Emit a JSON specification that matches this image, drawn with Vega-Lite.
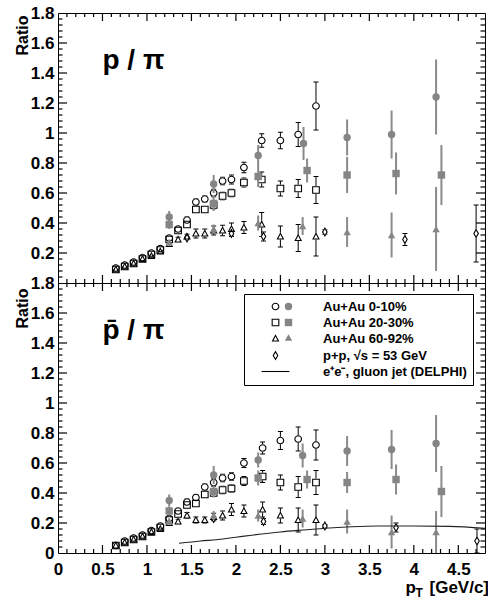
{
  "$schema": "https://vega.github.io/schema/vega-lite/v6.json",
  "background": "white",
  "padding": {"left": 13, "top": 3, "right": 0, "bottom": 0},
  "bounds": "flush",
  "spacing": 0,
  "config": {
    "view": {"stroke": "black", "strokeWidth": 1},
    "axis": {"domain": false, "grid": false, "ticks": false, "labelFont": "Liberation Sans", "labelFontWeight": "bold", "labelFontSize": 17, "labelColor": "black", "labelFlush": false, "labelOverlap": false, "titleFont": "Liberation Sans", "titleFontWeight": "bold", "titleColor": "black"}
  },
  "datasets": {
    "xmaj": [{"v":0.5},{"v":1},{"v":1.5},{"v":2},{"v":2.5},{"v":3},{"v":3.5},{"v":4},{"v":4.5}],
    "xmin": [{"v":0.1},{"v":0.2},{"v":0.3},{"v":0.4},{"v":0.6},{"v":0.7},{"v":0.8},{"v":0.9},{"v":1.1},{"v":1.2},{"v":1.3},{"v":1.4},{"v":1.6},{"v":1.7},{"v":1.8},{"v":1.9},{"v":2.1},{"v":2.2},{"v":2.3},{"v":2.4},{"v":2.6},{"v":2.7},{"v":2.8},{"v":2.9},{"v":3.1},{"v":3.2},{"v":3.3},{"v":3.4},{"v":3.6},{"v":3.7},{"v":3.8},{"v":3.9},{"v":4.1},{"v":4.2},{"v":4.3},{"v":4.4},{"v":4.6},{"v":4.7}],
    "ymaj": [{"v":0.2},{"v":0.4},{"v":0.6},{"v":0.8},{"v":1},{"v":1.2},{"v":1.4},{"v":1.6}],
    "ymin": [{"v":0.04},{"v":0.08},{"v":0.12},{"v":0.16},{"v":0.24},{"v":0.28},{"v":0.32},{"v":0.36},{"v":0.44},{"v":0.48},{"v":0.52},{"v":0.56},{"v":0.64},{"v":0.68},{"v":0.72},{"v":0.76},{"v":0.84},{"v":0.88},{"v":0.92},{"v":0.96},{"v":1.04},{"v":1.08},{"v":1.12},{"v":1.16},{"v":1.24},{"v":1.28},{"v":1.32},{"v":1.36},{"v":1.44},{"v":1.48},{"v":1.52},{"v":1.56},{"v":1.64},{"v":1.68},{"v":1.72},{"v":1.76}],
    "top": [
      {"cent":"Au+Au 0-10%","kind":"open","pt":0.65,"r":0.10,"lo":0.09,"hi":0.11},
      {"cent":"Au+Au 0-10%","kind":"open","pt":0.75,"r":0.12,"lo":0.11,"hi":0.13},
      {"cent":"Au+Au 0-10%","kind":"open","pt":0.85,"r":0.14,"lo":0.13,"hi":0.15},
      {"cent":"Au+Au 0-10%","kind":"open","pt":0.95,"r":0.17,"lo":0.16,"hi":0.18},
      {"cent":"Au+Au 0-10%","kind":"open","pt":1.05,"r":0.20,"lo":0.19,"hi":0.21},
      {"cent":"Au+Au 0-10%","kind":"open","pt":1.15,"r":0.23,"lo":0.22,"hi":0.24},
      {"cent":"Au+Au 0-10%","kind":"open","pt":1.25,"r":0.30,"lo":0.285,"hi":0.315},
      {"cent":"Au+Au 0-10%","kind":"open","pt":1.35,"r":0.36,"lo":0.345,"hi":0.375},
      {"cent":"Au+Au 0-10%","kind":"open","pt":1.45,"r":0.42,"lo":0.40,"hi":0.44},
      {"cent":"Au+Au 0-10%","kind":"open","pt":1.55,"r":0.54,"lo":0.52,"hi":0.56},
      {"cent":"Au+Au 0-10%","kind":"open","pt":1.65,"r":0.56,"lo":0.54,"hi":0.58},
      {"cent":"Au+Au 0-10%","kind":"open","pt":1.75,"r":0.60,"lo":0.575,"hi":0.625},
      {"cent":"Au+Au 0-10%","kind":"open","pt":1.85,"r":0.68,"lo":0.655,"hi":0.705},
      {"cent":"Au+Au 0-10%","kind":"open","pt":1.95,"r":0.69,"lo":0.66,"hi":0.72},
      {"cent":"Au+Au 0-10%","kind":"open","pt":2.09,"r":0.77,"lo":0.735,"hi":0.805},
      {"cent":"Au+Au 0-10%","kind":"open","pt":2.29,"r":0.95,"lo":0.905,"hi":0.995},
      {"cent":"Au+Au 0-10%","kind":"open","pt":2.5,"r":0.95,"lo":0.895,"hi":1.005},
      {"cent":"Au+Au 0-10%","kind":"open","pt":2.7,"r":0.99,"lo":0.91,"hi":1.07},
      {"cent":"Au+Au 0-10%","kind":"open","pt":2.9,"r":1.18,"lo":1.02,"hi":1.34},
      {"cent":"Au+Au 20-30%","kind":"open","pt":0.65,"r":0.09,"lo":0.08,"hi":0.10},
      {"cent":"Au+Au 20-30%","kind":"open","pt":0.75,"r":0.11,"lo":0.10,"hi":0.12},
      {"cent":"Au+Au 20-30%","kind":"open","pt":0.85,"r":0.13,"lo":0.12,"hi":0.14},
      {"cent":"Au+Au 20-30%","kind":"open","pt":0.95,"r":0.16,"lo":0.15,"hi":0.17},
      {"cent":"Au+Au 20-30%","kind":"open","pt":1.05,"r":0.19,"lo":0.18,"hi":0.20},
      {"cent":"Au+Au 20-30%","kind":"open","pt":1.15,"r":0.22,"lo":0.21,"hi":0.23},
      {"cent":"Au+Au 20-30%","kind":"open","pt":1.25,"r":0.29,"lo":0.275,"hi":0.305},
      {"cent":"Au+Au 20-30%","kind":"open","pt":1.35,"r":0.35,"lo":0.335,"hi":0.365},
      {"cent":"Au+Au 20-30%","kind":"open","pt":1.45,"r":0.39,"lo":0.37,"hi":0.41},
      {"cent":"Au+Au 20-30%","kind":"open","pt":1.55,"r":0.49,"lo":0.47,"hi":0.51},
      {"cent":"Au+Au 20-30%","kind":"open","pt":1.65,"r":0.49,"lo":0.47,"hi":0.51},
      {"cent":"Au+Au 20-30%","kind":"open","pt":1.75,"r":0.52,"lo":0.495,"hi":0.545},
      {"cent":"Au+Au 20-30%","kind":"open","pt":1.85,"r":0.58,"lo":0.555,"hi":0.605},
      {"cent":"Au+Au 20-30%","kind":"open","pt":1.95,"r":0.60,"lo":0.575,"hi":0.625},
      {"cent":"Au+Au 20-30%","kind":"open","pt":2.09,"r":0.67,"lo":0.64,"hi":0.70},
      {"cent":"Au+Au 20-30%","kind":"open","pt":2.29,"r":0.69,"lo":0.64,"hi":0.74},
      {"cent":"Au+Au 20-30%","kind":"open","pt":2.5,"r":0.63,"lo":0.58,"hi":0.68},
      {"cent":"Au+Au 20-30%","kind":"open","pt":2.7,"r":0.63,"lo":0.57,"hi":0.69},
      {"cent":"Au+Au 20-30%","kind":"open","pt":2.9,"r":0.62,"lo":0.53,"hi":0.71},
      {"cent":"Au+Au 60-92%","kind":"open","pt":0.65,"r":0.09,"lo":0.08,"hi":0.10},
      {"cent":"Au+Au 60-92%","kind":"open","pt":0.75,"r":0.11,"lo":0.10,"hi":0.12},
      {"cent":"Au+Au 60-92%","kind":"open","pt":0.85,"r":0.13,"lo":0.12,"hi":0.14},
      {"cent":"Au+Au 60-92%","kind":"open","pt":0.95,"r":0.16,"lo":0.15,"hi":0.17},
      {"cent":"Au+Au 60-92%","kind":"open","pt":1.05,"r":0.18,"lo":0.17,"hi":0.19},
      {"cent":"Au+Au 60-92%","kind":"open","pt":1.15,"r":0.21,"lo":0.20,"hi":0.22},
      {"cent":"Au+Au 60-92%","kind":"open","pt":1.25,"r":0.26,"lo":0.245,"hi":0.275},
      {"cent":"Au+Au 60-92%","kind":"open","pt":1.35,"r":0.29,"lo":0.275,"hi":0.305},
      {"cent":"Au+Au 60-92%","kind":"open","pt":1.45,"r":0.31,"lo":0.295,"hi":0.325},
      {"cent":"Au+Au 60-92%","kind":"open","pt":1.55,"r":0.33,"lo":0.30,"hi":0.36},
      {"cent":"Au+Au 60-92%","kind":"open","pt":1.65,"r":0.33,"lo":0.30,"hi":0.36},
      {"cent":"Au+Au 60-92%","kind":"open","pt":1.75,"r":0.35,"lo":0.32,"hi":0.38},
      {"cent":"Au+Au 60-92%","kind":"open","pt":1.85,"r":0.35,"lo":0.315,"hi":0.385},
      {"cent":"Au+Au 60-92%","kind":"open","pt":1.95,"r":0.36,"lo":0.32,"hi":0.40},
      {"cent":"Au+Au 60-92%","kind":"open","pt":2.09,"r":0.37,"lo":0.33,"hi":0.41},
      {"cent":"Au+Au 60-92%","kind":"open","pt":2.29,"r":0.39,"lo":0.31,"hi":0.47},
      {"cent":"Au+Au 60-92%","kind":"open","pt":2.5,"r":0.31,"lo":0.24,"hi":0.38},
      {"cent":"Au+Au 60-92%","kind":"open","pt":2.7,"r":0.30,"lo":0.21,"hi":0.39},
      {"cent":"Au+Au 60-92%","kind":"open","pt":2.9,"r":0.31,"lo":0.18,"hi":0.44},
      {"cent":"p+p, √s = 53 GeV","kind":"open","pt":1.45,"r":0.30,"lo":0.29,"hi":0.31},
      {"cent":"p+p, √s = 53 GeV","kind":"open","pt":1.95,"r":0.33,"lo":0.31,"hi":0.35},
      {"cent":"p+p, √s = 53 GeV","kind":"open","pt":2.31,"r":0.31,"lo":0.28,"hi":0.34},
      {"cent":"p+p, √s = 53 GeV","kind":"open","pt":3.0,"r":0.34,"lo":0.325,"hi":0.355},
      {"cent":"p+p, √s = 53 GeV","kind":"open","pt":3.9,"r":0.29,"lo":0.25,"hi":0.33},
      {"cent":"p+p, √s = 53 GeV","kind":"open","pt":4.7,"r":0.33,"lo":0.14,"hi":0.52},
      {"cent":"Au+Au 0-10%","kind":"filled","pt":1.25,"r":0.44,"lo":0.40,"hi":0.48},
      {"cent":"Au+Au 0-10%","kind":"filled","pt":1.75,"r":0.66,"lo":0.60,"hi":0.72},
      {"cent":"Au+Au 0-10%","kind":"filled","pt":2.25,"r":0.85,"lo":0.78,"hi":0.92},
      {"cent":"Au+Au 0-10%","kind":"filled","pt":2.76,"r":0.93,"lo":0.82,"hi":1.04},
      {"cent":"Au+Au 0-10%","kind":"filled","pt":3.25,"r":0.97,"lo":0.85,"hi":1.09},
      {"cent":"Au+Au 0-10%","kind":"filled","pt":3.75,"r":0.99,"lo":0.83,"hi":1.15},
      {"cent":"Au+Au 0-10%","kind":"filled","pt":4.25,"r":1.24,"lo":0.99,"hi":1.49},
      {"cent":"Au+Au 20-30%","kind":"filled","pt":1.25,"r":0.39,"lo":0.36,"hi":0.42},
      {"cent":"Au+Au 20-30%","kind":"filled","pt":1.75,"r":0.53,"lo":0.48,"hi":0.58},
      {"cent":"Au+Au 20-30%","kind":"filled","pt":2.25,"r":0.71,"lo":0.64,"hi":0.78},
      {"cent":"Au+Au 20-30%","kind":"filled","pt":2.8,"r":0.75,"lo":0.67,"hi":0.83},
      {"cent":"Au+Au 20-30%","kind":"filled","pt":3.25,"r":0.72,"lo":0.60,"hi":0.84},
      {"cent":"Au+Au 20-30%","kind":"filled","pt":3.8,"r":0.73,"lo":0.59,"hi":0.87},
      {"cent":"Au+Au 20-30%","kind":"filled","pt":4.31,"r":0.72,"lo":0.52,"hi":0.92},
      {"cent":"Au+Au 60-92%","kind":"filled","pt":1.25,"r":0.27,"lo":0.25,"hi":0.29},
      {"cent":"Au+Au 60-92%","kind":"filled","pt":1.75,"r":0.36,"lo":0.33,"hi":0.39},
      {"cent":"Au+Au 60-92%","kind":"filled","pt":2.25,"r":0.40,"lo":0.35,"hi":0.45},
      {"cent":"Au+Au 60-92%","kind":"filled","pt":2.75,"r":0.38,"lo":0.32,"hi":0.44},
      {"cent":"Au+Au 60-92%","kind":"filled","pt":3.25,"r":0.34,"lo":0.24,"hi":0.44},
      {"cent":"Au+Au 60-92%","kind":"filled","pt":3.75,"r":0.32,"lo":0.17,"hi":0.47},
      {"cent":"Au+Au 60-92%","kind":"filled","pt":4.25,"r":0.36,"lo":0.08,"hi":0.64}
    ],
    "bot": [
      {"cent":"Au+Au 0-10%","kind":"open","pt":0.65,"r":0.05,"lo":0.04,"hi":0.06},
      {"cent":"Au+Au 0-10%","kind":"open","pt":0.75,"r":0.08,"lo":0.07,"hi":0.09},
      {"cent":"Au+Au 0-10%","kind":"open","pt":0.85,"r":0.10,"lo":0.09,"hi":0.11},
      {"cent":"Au+Au 0-10%","kind":"open","pt":0.95,"r":0.12,"lo":0.11,"hi":0.13},
      {"cent":"Au+Au 0-10%","kind":"open","pt":1.05,"r":0.15,"lo":0.14,"hi":0.16},
      {"cent":"Au+Au 0-10%","kind":"open","pt":1.15,"r":0.18,"lo":0.17,"hi":0.19},
      {"cent":"Au+Au 0-10%","kind":"open","pt":1.25,"r":0.23,"lo":0.215,"hi":0.245},
      {"cent":"Au+Au 0-10%","kind":"open","pt":1.35,"r":0.28,"lo":0.265,"hi":0.295},
      {"cent":"Au+Au 0-10%","kind":"open","pt":1.45,"r":0.34,"lo":0.32,"hi":0.36},
      {"cent":"Au+Au 0-10%","kind":"open","pt":1.55,"r":0.37,"lo":0.35,"hi":0.39},
      {"cent":"Au+Au 0-10%","kind":"open","pt":1.65,"r":0.44,"lo":0.42,"hi":0.46},
      {"cent":"Au+Au 0-10%","kind":"open","pt":1.75,"r":0.47,"lo":0.445,"hi":0.495},
      {"cent":"Au+Au 0-10%","kind":"open","pt":1.85,"r":0.50,"lo":0.475,"hi":0.525},
      {"cent":"Au+Au 0-10%","kind":"open","pt":1.95,"r":0.51,"lo":0.485,"hi":0.535},
      {"cent":"Au+Au 0-10%","kind":"open","pt":2.09,"r":0.60,"lo":0.57,"hi":0.63},
      {"cent":"Au+Au 0-10%","kind":"open","pt":2.3,"r":0.70,"lo":0.66,"hi":0.74},
      {"cent":"Au+Au 0-10%","kind":"open","pt":2.5,"r":0.75,"lo":0.69,"hi":0.81},
      {"cent":"Au+Au 0-10%","kind":"open","pt":2.7,"r":0.76,"lo":0.68,"hi":0.84},
      {"cent":"Au+Au 0-10%","kind":"open","pt":2.9,"r":0.72,"lo":0.62,"hi":0.82},
      {"cent":"Au+Au 20-30%","kind":"open","pt":0.65,"r":0.05,"lo":0.04,"hi":0.06},
      {"cent":"Au+Au 20-30%","kind":"open","pt":0.75,"r":0.07,"lo":0.06,"hi":0.08},
      {"cent":"Au+Au 20-30%","kind":"open","pt":0.85,"r":0.09,"lo":0.08,"hi":0.10},
      {"cent":"Au+Au 20-30%","kind":"open","pt":0.95,"r":0.11,"lo":0.10,"hi":0.12},
      {"cent":"Au+Au 20-30%","kind":"open","pt":1.05,"r":0.14,"lo":0.13,"hi":0.15},
      {"cent":"Au+Au 20-30%","kind":"open","pt":1.15,"r":0.17,"lo":0.16,"hi":0.18},
      {"cent":"Au+Au 20-30%","kind":"open","pt":1.25,"r":0.22,"lo":0.205,"hi":0.235},
      {"cent":"Au+Au 20-30%","kind":"open","pt":1.35,"r":0.26,"lo":0.245,"hi":0.275},
      {"cent":"Au+Au 20-30%","kind":"open","pt":1.45,"r":0.32,"lo":0.30,"hi":0.34},
      {"cent":"Au+Au 20-30%","kind":"open","pt":1.55,"r":0.33,"lo":0.31,"hi":0.35},
      {"cent":"Au+Au 20-30%","kind":"open","pt":1.65,"r":0.39,"lo":0.37,"hi":0.41},
      {"cent":"Au+Au 20-30%","kind":"open","pt":1.75,"r":0.40,"lo":0.38,"hi":0.42},
      {"cent":"Au+Au 20-30%","kind":"open","pt":1.85,"r":0.42,"lo":0.395,"hi":0.445},
      {"cent":"Au+Au 20-30%","kind":"open","pt":1.95,"r":0.43,"lo":0.405,"hi":0.455},
      {"cent":"Au+Au 20-30%","kind":"open","pt":2.09,"r":0.48,"lo":0.45,"hi":0.51},
      {"cent":"Au+Au 20-30%","kind":"open","pt":2.3,"r":0.51,"lo":0.47,"hi":0.55},
      {"cent":"Au+Au 20-30%","kind":"open","pt":2.5,"r":0.47,"lo":0.42,"hi":0.52},
      {"cent":"Au+Au 20-30%","kind":"open","pt":2.7,"r":0.44,"lo":0.37,"hi":0.51},
      {"cent":"Au+Au 20-30%","kind":"open","pt":2.9,"r":0.47,"lo":0.39,"hi":0.55},
      {"cent":"Au+Au 60-92%","kind":"open","pt":0.65,"r":0.05,"lo":0.04,"hi":0.06},
      {"cent":"Au+Au 60-92%","kind":"open","pt":0.75,"r":0.07,"lo":0.06,"hi":0.08},
      {"cent":"Au+Au 60-92%","kind":"open","pt":0.85,"r":0.09,"lo":0.08,"hi":0.10},
      {"cent":"Au+Au 60-92%","kind":"open","pt":0.95,"r":0.11,"lo":0.10,"hi":0.12},
      {"cent":"Au+Au 60-92%","kind":"open","pt":1.05,"r":0.14,"lo":0.13,"hi":0.15},
      {"cent":"Au+Au 60-92%","kind":"open","pt":1.15,"r":0.16,"lo":0.15,"hi":0.17},
      {"cent":"Au+Au 60-92%","kind":"open","pt":1.25,"r":0.20,"lo":0.185,"hi":0.215},
      {"cent":"Au+Au 60-92%","kind":"open","pt":1.35,"r":0.21,"lo":0.195,"hi":0.225},
      {"cent":"Au+Au 60-92%","kind":"open","pt":1.45,"r":0.25,"lo":0.23,"hi":0.27},
      {"cent":"Au+Au 60-92%","kind":"open","pt":1.55,"r":0.22,"lo":0.20,"hi":0.24},
      {"cent":"Au+Au 60-92%","kind":"open","pt":1.65,"r":0.22,"lo":0.20,"hi":0.24},
      {"cent":"Au+Au 60-92%","kind":"open","pt":1.75,"r":0.24,"lo":0.215,"hi":0.265},
      {"cent":"Au+Au 60-92%","kind":"open","pt":1.85,"r":0.25,"lo":0.22,"hi":0.28},
      {"cent":"Au+Au 60-92%","kind":"open","pt":1.95,"r":0.29,"lo":0.25,"hi":0.33},
      {"cent":"Au+Au 60-92%","kind":"open","pt":2.09,"r":0.28,"lo":0.24,"hi":0.32},
      {"cent":"Au+Au 60-92%","kind":"open","pt":2.3,"r":0.29,"lo":0.24,"hi":0.34},
      {"cent":"Au+Au 60-92%","kind":"open","pt":2.5,"r":0.25,"lo":0.20,"hi":0.30},
      {"cent":"Au+Au 60-92%","kind":"open","pt":2.7,"r":0.22,"lo":0.14,"hi":0.30},
      {"cent":"Au+Au 60-92%","kind":"open","pt":2.9,"r":0.22,"lo":0.12,"hi":0.32},
      {"cent":"p+p, √s = 53 GeV","kind":"open","pt":1.75,"r":0.23,"lo":0.22,"hi":0.24},
      {"cent":"p+p, √s = 53 GeV","kind":"open","pt":2.31,"r":0.21,"lo":0.19,"hi":0.23},
      {"cent":"p+p, √s = 53 GeV","kind":"open","pt":3.0,"r":0.18,"lo":0.17,"hi":0.19},
      {"cent":"p+p, √s = 53 GeV","kind":"open","pt":3.8,"r":0.17,"lo":0.14,"hi":0.20},
      {"cent":"p+p, √s = 53 GeV","kind":"open","pt":4.71,"r":0.08,"lo":0.0,"hi":0.16},
      {"cent":"Au+Au 0-10%","kind":"filled","pt":1.25,"r":0.35,"lo":0.31,"hi":0.39},
      {"cent":"Au+Au 0-10%","kind":"filled","pt":1.75,"r":0.52,"lo":0.46,"hi":0.58},
      {"cent":"Au+Au 0-10%","kind":"filled","pt":2.25,"r":0.62,"lo":0.57,"hi":0.67},
      {"cent":"Au+Au 0-10%","kind":"filled","pt":2.75,"r":0.65,"lo":0.57,"hi":0.73},
      {"cent":"Au+Au 0-10%","kind":"filled","pt":3.25,"r":0.68,"lo":0.58,"hi":0.78},
      {"cent":"Au+Au 0-10%","kind":"filled","pt":3.75,"r":0.69,"lo":0.56,"hi":0.82},
      {"cent":"Au+Au 0-10%","kind":"filled","pt":4.25,"r":0.73,"lo":0.54,"hi":0.92},
      {"cent":"Au+Au 20-30%","kind":"filled","pt":1.25,"r":0.28,"lo":0.25,"hi":0.31},
      {"cent":"Au+Au 20-30%","kind":"filled","pt":1.75,"r":0.41,"lo":0.37,"hi":0.45},
      {"cent":"Au+Au 20-30%","kind":"filled","pt":2.25,"r":0.50,"lo":0.45,"hi":0.55},
      {"cent":"Au+Au 20-30%","kind":"filled","pt":2.8,"r":0.49,"lo":0.43,"hi":0.55},
      {"cent":"Au+Au 20-30%","kind":"filled","pt":3.25,"r":0.47,"lo":0.40,"hi":0.54},
      {"cent":"Au+Au 20-30%","kind":"filled","pt":3.8,"r":0.49,"lo":0.39,"hi":0.59},
      {"cent":"Au+Au 20-30%","kind":"filled","pt":4.31,"r":0.41,"lo":0.24,"hi":0.58},
      {"cent":"Au+Au 60-92%","kind":"filled","pt":1.25,"r":0.21,"lo":0.19,"hi":0.23},
      {"cent":"Au+Au 60-92%","kind":"filled","pt":1.75,"r":0.25,"lo":0.22,"hi":0.28},
      {"cent":"Au+Au 60-92%","kind":"filled","pt":2.25,"r":0.25,"lo":0.21,"hi":0.29},
      {"cent":"Au+Au 60-92%","kind":"filled","pt":2.75,"r":0.23,"lo":0.17,"hi":0.29},
      {"cent":"Au+Au 60-92%","kind":"filled","pt":3.25,"r":0.21,"lo":0.13,"hi":0.29},
      {"cent":"Au+Au 60-92%","kind":"filled","pt":3.75,"r":0.14,"lo":0.03,"hi":0.25},
      {"cent":"Au+Au 60-92%","kind":"filled","pt":4.25,"r":0.14,"lo":0.0,"hi":0.28}
    ],
    "delphi": [
      {"pt":1.36,"r":0.065},{"pt":1.6,"r":0.08},{"pt":1.8,"r":0.09},{"pt":2.0,"r":0.105},
      {"pt":2.2,"r":0.12},{"pt":2.5,"r":0.14},{"pt":2.8,"r":0.155},{"pt":3.0,"r":0.165},
      {"pt":3.3,"r":0.175},{"pt":3.6,"r":0.18},{"pt":4.0,"r":0.18},{"pt":4.4,"r":0.177},{"pt":4.8,"r":0.165}
    ]
  },
  "vconcat": [
    {
      "width": 427, "height": 270,
      "resolve": {"scale": {"shape": "independent"}, "legend": {"shape": "independent"}, "axis": {"x": "independent", "y": "independent"}},
      "layer": [
        {
          "data": {"name": "top"},
          "transform": [{"filter": "datum.kind === 'open'"}],
          "mark": {"type": "rule", "color": "black", "strokeWidth": 1, "clip": true},
          "encoding": {
            "x": {"field": "pt", "type": "quantitative", "scale": {"domain": [0, 4.8], "nice": false, "zero": false}, "axis": null},
            "y": {"field": "lo", "type": "quantitative", "scale": {"domain": [0, 1.8], "nice": false, "zero": false},
                  "axis": {"orient": "left", "values": [0.2,0.4,0.6,0.8,1,1.2,1.4,1.6,1.8], "format": "~g", "labelPadding": 4,
                           "title": "Ratio", "titleAngle": 270, "titleX": -31, "titleY": 2, "titleAlign": "right", "titleBaseline": "alphabetic", "titleFontSize": 16}},
            "y2": {"field": "hi"}
          }
        },
        {
          "data": {"name": "top"},
          "transform": [{"filter": "datum.kind === 'open'"}],
          "mark": {"type": "tick", "orient": "horizontal", "size": 5, "thickness": 1, "color": "black", "opacity": 1, "clip": true},
          "encoding": {
            "x": {"field": "pt", "type": "quantitative", "scale": {"domain": [0, 4.8], "nice": false, "zero": false}, "axis": null},
            "y": {"field": "lo", "type": "quantitative", "scale": {"domain": [0, 1.8], "nice": false, "zero": false}, "axis": null}
          }
        },
        {
          "data": {"name": "top"},
          "transform": [{"filter": "datum.kind === 'open'"}],
          "mark": {"type": "tick", "orient": "horizontal", "size": 5, "thickness": 1, "color": "black", "opacity": 1, "clip": true},
          "encoding": {
            "x": {"field": "pt", "type": "quantitative", "scale": {"domain": [0, 4.8], "nice": false, "zero": false}, "axis": null},
            "y": {"field": "hi", "type": "quantitative", "scale": {"domain": [0, 1.8], "nice": false, "zero": false}, "axis": null}
          }
        },
        {
          "data": {"name": "top"},
          "transform": [{"filter": "datum.kind === 'open'"}],
          "mark": {"type": "point", "filled": true, "color": "white", "size": 60, "opacity": 1},
          "encoding": {
            "x": {"field": "pt", "type": "quantitative", "scale": {"domain": [0, 4.8], "nice": false, "zero": false}, "axis": null},
            "y": {"field": "r", "type": "quantitative", "scale": {"domain": [0, 1.8], "nice": false, "zero": false}, "axis": null},
            "shape": {"field": "cent", "type": "nominal",
                      "scale": {"domain": ["Au+Au 0-10%","Au+Au 20-30%","Au+Au 60-92%","p+p, √s = 53 GeV"],
                                "range": ["M-1,0A1,1,0,1,0,1,0A1,1,0,1,0,-1,0Z","M-1,-1H1V1H-1Z","M0,-1.1L1,0.8H-1Z","M0,-1.3L0.75,0L0,1.3L-0.75,0Z"]},
                      "legend": null}
          }
        },
        {
          "data": {"name": "top"},
          "transform": [{"filter": "datum.kind === 'open'"}],
          "mark": {"type": "point", "filled": true, "color": "black", "size": 60, "opacity": 1},
          "encoding": {
            "x": {"field": "pt", "type": "quantitative", "scale": {"domain": [0, 4.8], "nice": false, "zero": false}, "axis": null},
            "y": {"field": "r", "type": "quantitative", "scale": {"domain": [0, 1.8], "nice": false, "zero": false}, "axis": null},
            "shape": {"field": "cent", "type": "nominal",
                      "scale": {"domain": ["Au+Au 0-10%","Au+Au 20-30%","Au+Au 60-92%","p+p, √s = 53 GeV"],
                                "range": ["M-1,0A1,1,0,1,0,1,0A1,1,0,1,0,-1,0ZM-0.72,0A0.72,0.72,0,1,1,0.72,0A0.72,0.72,0,1,1,-0.72,0Z","M-1,-1H1V1H-1ZM-0.72,-0.72V0.72H0.72V-0.72Z","M0,-1.1L1,0.8H-1ZM0,-0.5L-0.54,0.52H0.54Z","M0,-1.3L0.75,0L0,1.3L-0.75,0ZM0,-0.74L-0.43,0L0,0.74L0.43,0Z"]},
                      "legend": null}
          }
        },
        {
          "data": {"name": "top"},
          "transform": [{"filter": "datum.kind === 'filled'"}],
          "mark": {"type": "rule", "color": "#8a8a8a", "strokeWidth": 2, "clip": true},
          "encoding": {
            "x": {"field": "pt", "type": "quantitative", "scale": {"domain": [0, 4.8], "nice": false, "zero": false}, "axis": null},
            "y": {"field": "lo", "type": "quantitative", "scale": {"domain": [0, 1.8], "nice": false, "zero": false}, "axis": null},
            "y2": {"field": "hi"}
          }
        },
        {
          "data": {"name": "top"},
          "transform": [{"filter": "datum.kind === 'filled'"}],
          "mark": {"type": "point", "filled": true, "color": "#858585", "size": 55, "opacity": 1},
          "encoding": {
            "x": {"field": "pt", "type": "quantitative", "scale": {"domain": [0, 4.8], "nice": false, "zero": false}, "axis": null},
            "y": {"field": "r", "type": "quantitative", "scale": {"domain": [0, 1.8], "nice": false, "zero": false}, "axis": null},
            "shape": {"field": "cent", "type": "nominal",
                      "scale": {"domain": ["Au+Au 0-10%","Au+Au 20-30%","Au+Au 60-92%"], "range": ["circle","square","triangle-up"]},
                      "legend": null}
          }
        },
        {
          "data": {"values": [{}]},
          "mark": {"type": "text", "text": "p / π", "font": "Liberation Sans", "fontWeight": "bold", "fontSize": 28, "align": "left", "baseline": "alphabetic", "color": "black"},
          "encoding": {
            "x": {"datum": 0.5, "type": "quantitative", "scale": {"domain": [0, 4.8], "nice": false, "zero": false}, "axis": null},
            "y": {"datum": 1.43, "type": "quantitative", "scale": {"domain": [0, 1.8], "nice": false, "zero": false}, "axis": null}
          }
        },
        {"data": {"name": "xmaj"}, "mark": {"type": "rule", "color": "black", "strokeWidth": 1.2},
         "encoding": {"x": {"field": "v", "type": "quantitative", "scale": {"domain": [0, 4.8], "nice": false, "zero": false}, "axis": null},
                      "y": {"datum": 0, "type": "quantitative", "scale": {"domain": [0, 1.8], "nice": false, "zero": false}, "axis": null}, "y2": {"datum": 0.0533}}},
        {"data": {"name": "xmaj"}, "mark": {"type": "rule", "color": "black", "strokeWidth": 1.2},
         "encoding": {"x": {"field": "v", "type": "quantitative", "scale": {"domain": [0, 4.8], "nice": false, "zero": false}, "axis": null},
                      "y": {"datum": 1.8, "type": "quantitative", "scale": {"domain": [0, 1.8], "nice": false, "zero": false}, "axis": null}, "y2": {"datum": 1.7467}}},
        {"data": {"name": "xmin"}, "mark": {"type": "rule", "color": "black", "strokeWidth": 1.2},
         "encoding": {"x": {"field": "v", "type": "quantitative", "scale": {"domain": [0, 4.8], "nice": false, "zero": false}, "axis": null},
                      "y": {"datum": 0, "type": "quantitative", "scale": {"domain": [0, 1.8], "nice": false, "zero": false}, "axis": null}, "y2": {"datum": 0.0267}}},
        {"data": {"name": "xmin"}, "mark": {"type": "rule", "color": "black", "strokeWidth": 1.2},
         "encoding": {"x": {"field": "v", "type": "quantitative", "scale": {"domain": [0, 4.8], "nice": false, "zero": false}, "axis": null},
                      "y": {"datum": 1.8, "type": "quantitative", "scale": {"domain": [0, 1.8], "nice": false, "zero": false}, "axis": null}, "y2": {"datum": 1.7733}}},
        {"data": {"name": "ymaj"}, "mark": {"type": "rule", "color": "black", "strokeWidth": 1.2},
         "encoding": {"y": {"field": "v", "type": "quantitative", "scale": {"domain": [0, 1.8], "nice": false, "zero": false}, "axis": null},
                      "x": {"datum": 0, "type": "quantitative", "scale": {"domain": [0, 4.8], "nice": false, "zero": false}, "axis": null}, "x2": {"datum": 0.101}}},
        {"data": {"name": "ymaj"}, "mark": {"type": "rule", "color": "black", "strokeWidth": 1.2},
         "encoding": {"y": {"field": "v", "type": "quantitative", "scale": {"domain": [0, 1.8], "nice": false, "zero": false}, "axis": null},
                      "x": {"datum": 4.8, "type": "quantitative", "scale": {"domain": [0, 4.8], "nice": false, "zero": false}, "axis": null}, "x2": {"datum": 4.699}}},
        {"data": {"name": "ymin"}, "mark": {"type": "rule", "color": "black", "strokeWidth": 1.2},
         "encoding": {"y": {"field": "v", "type": "quantitative", "scale": {"domain": [0, 1.8], "nice": false, "zero": false}, "axis": null},
                      "x": {"datum": 0, "type": "quantitative", "scale": {"domain": [0, 4.8], "nice": false, "zero": false}, "axis": null}, "x2": {"datum": 0.0506}}},
        {"data": {"name": "ymin"}, "mark": {"type": "rule", "color": "black", "strokeWidth": 1.2},
         "encoding": {"y": {"field": "v", "type": "quantitative", "scale": {"domain": [0, 1.8], "nice": false, "zero": false}, "axis": null},
                      "x": {"datum": 4.8, "type": "quantitative", "scale": {"domain": [0, 4.8], "nice": false, "zero": false}, "axis": null}, "x2": {"datum": 4.7494}}}
      ]
    },
    {
      "width": 427, "height": 270,
      "resolve": {"scale": {"shape": "independent"}, "legend": {"shape": "independent"}, "axis": {"x": "independent", "y": "independent"}},
      "layer": [
        {
          "data": {"name": "bot"},
          "transform": [{"filter": "datum.kind === 'open'"}],
          "mark": {"type": "rule", "color": "black", "strokeWidth": 1, "clip": true},
          "encoding": {
            "x": {"field": "pt", "type": "quantitative", "scale": {"domain": [0, 4.8], "nice": false, "zero": false},
                  "axis": {"orient": "bottom", "values": [0,0.5,1,1.5,2,2.5,3,3.5,4,4.5], "format": "~g", "labelPadding": 8,
                           "title": "p", "titleX": 347, "titleY": 39, "titleAlign": "left", "titleBaseline": "alphabetic", "titleFontSize": 17}},
            "y": {"field": "lo", "type": "quantitative", "scale": {"domain": [0, 1.8], "nice": false, "zero": false},
                  "axis": {"orient": "left", "values": [0,0.2,0.4,0.6,0.8,1,1.2,1.4,1.6,1.8], "format": "~g", "labelPadding": 4,
                           "title": "Ratio", "titleAngle": 270, "titleX": -31, "titleY": 5, "titleAlign": "right", "titleBaseline": "alphabetic", "titleFontSize": 16}},
            "y2": {"field": "hi"}
          }
        },
        {
          "data": {"name": "bot"},
          "transform": [{"filter": "datum.kind === 'open'"}],
          "mark": {"type": "tick", "orient": "horizontal", "size": 5, "thickness": 1, "color": "black", "opacity": 1, "clip": true},
          "encoding": {
            "x": {"field": "pt", "type": "quantitative", "scale": {"domain": [0, 4.8], "nice": false, "zero": false},
                  "axis": {"orient": "bottom", "values": [], "labels": false,
                           "title": "T", "titleX": 357, "titleY": 43, "titleAlign": "left", "titleBaseline": "alphabetic", "titleFontSize": 12}},
            "y": {"field": "lo", "type": "quantitative", "scale": {"domain": [0, 1.8], "nice": false, "zero": false}, "axis": null}
          }
        },
        {
          "data": {"name": "bot"},
          "transform": [{"filter": "datum.kind === 'open'"}],
          "mark": {"type": "tick", "orient": "horizontal", "size": 5, "thickness": 1, "color": "black", "opacity": 1, "clip": true},
          "encoding": {
            "x": {"field": "pt", "type": "quantitative", "scale": {"domain": [0, 4.8], "nice": false, "zero": false},
                  "axis": {"orient": "bottom", "values": [], "labels": false,
                           "title": "[GeV/c]", "titleX": 371, "titleY": 39, "titleAlign": "left", "titleBaseline": "alphabetic", "titleFontSize": 17}},
            "y": {"field": "hi", "type": "quantitative", "scale": {"domain": [0, 1.8], "nice": false, "zero": false}, "axis": null}
          }
        },
        {
          "data": {"name": "bot"},
          "transform": [{"filter": "datum.kind === 'open'"}],
          "mark": {"type": "point", "filled": true, "color": "white", "size": 60, "opacity": 1},
          "encoding": {
            "x": {"field": "pt", "type": "quantitative", "scale": {"domain": [0, 4.8], "nice": false, "zero": false}, "axis": null},
            "y": {"field": "r", "type": "quantitative", "scale": {"domain": [0, 1.8], "nice": false, "zero": false}, "axis": null},
            "shape": {"field": "cent", "type": "nominal",
                      "scale": {"domain": ["Au+Au 0-10%","Au+Au 20-30%","Au+Au 60-92%","p+p, √s = 53 GeV"],
                                "range": ["M-1,0A1,1,0,1,0,1,0A1,1,0,1,0,-1,0Z","M-1,-1H1V1H-1Z","M0,-1.1L1,0.8H-1Z","M0,-1.3L0.75,0L0,1.3L-0.75,0Z"]},
                      "legend": null}
          }
        },
        {
          "data": {"name": "bot"},
          "transform": [{"filter": "datum.kind === 'open'"}],
          "mark": {"type": "point", "filled": true, "color": "black", "size": 60, "opacity": 1},
          "encoding": {
            "x": {"field": "pt", "type": "quantitative", "scale": {"domain": [0, 4.8], "nice": false, "zero": false}, "axis": null},
            "y": {"field": "r", "type": "quantitative", "scale": {"domain": [0, 1.8], "nice": false, "zero": false}, "axis": null},
            "shape": {"field": "cent", "type": "nominal",
                      "scale": {"domain": ["Au+Au 0-10%","Au+Au 20-30%","Au+Au 60-92%","p+p, √s = 53 GeV","e⁺e⁻, gluon jet (DELPHI)"],
                                "range": ["M-1,0A1,1,0,1,0,1,0A1,1,0,1,0,-1,0ZM-0.72,0A0.72,0.72,0,1,1,0.72,0A0.72,0.72,0,1,1,-0.72,0Z","M-1,-1H1V1H-1ZM-0.72,-0.72V0.72H0.72V-0.72Z","M0,-1.1L1,0.8H-1ZM0,-0.5L-0.54,0.52H0.54Z","M0,-1.3L0.75,0L0,1.3L-0.75,0ZM0,-0.74L-0.43,0L0,0.74L0.43,0Z","M-3.6,-0.14H3.6V0.14H-3.6Z"]},
                      "legend": {"title": null, "orient": "none", "legendX": 186, "legendY": 11, "padding": 6, "symbolOffset": 19, "labelOffset": 41, "rowPadding": 1,
                                 "labelFont": "Liberation Sans", "labelFontWeight": "bold", "labelFontSize": 13, "labelColor": "black", "labelLimit": 400,
                                 "strokeColor": "black", "fillColor": "white", "symbolSize": 60, "symbolFillColor": "black"}}
          }
        },
        {
          "data": {"name": "bot"},
          "transform": [{"filter": "datum.kind === 'filled'"}],
          "mark": {"type": "rule", "color": "#8a8a8a", "strokeWidth": 2, "clip": true},
          "encoding": {
            "x": {"field": "pt", "type": "quantitative", "scale": {"domain": [0, 4.8], "nice": false, "zero": false}, "axis": null},
            "y": {"field": "lo", "type": "quantitative", "scale": {"domain": [0, 1.8], "nice": false, "zero": false}, "axis": null},
            "y2": {"field": "hi"}
          }
        },
        {
          "data": {"name": "bot"},
          "transform": [{"filter": "datum.kind === 'filled'"}],
          "mark": {"type": "point", "filled": true, "color": "#858585", "size": 55, "opacity": 1},
          "encoding": {
            "x": {"field": "pt", "type": "quantitative", "scale": {"domain": [0, 4.8], "nice": false, "zero": false}, "axis": null},
            "y": {"field": "r", "type": "quantitative", "scale": {"domain": [0, 1.8], "nice": false, "zero": false}, "axis": null},
            "shape": {"field": "cent", "type": "nominal",
                      "scale": {"domain": ["Au+Au 0-10%","Au+Au 20-30%","Au+Au 60-92%"], "range": ["circle","square","triangle-up"]},
                      "legend": {"title": null, "orient": "none", "legendX": 218, "legendY": 11, "padding": 6, "rowPadding": 1,
                                 "labelFont": "Liberation Sans", "labelFontWeight": "bold", "labelFontSize": 13, "labelColor": "rgba(0,0,0,0)", "labelExpr": "' '",
                                 "symbolSize": 55, "symbolFillColor": "#858585"}}
          }
        },
        {
          "data": {"name": "delphi"},
          "mark": {"type": "line", "color": "#222222", "strokeWidth": 1.2, "interpolate": "monotone", "clip": true},
          "encoding": {
            "x": {"field": "pt", "type": "quantitative", "scale": {"domain": [0, 4.8], "nice": false, "zero": false}, "axis": null},
            "y": {"field": "r", "type": "quantitative", "scale": {"domain": [0, 1.8], "nice": false, "zero": false}, "axis": null}
          }
        },
        {
          "data": {"values": [{}]},
          "mark": {"type": "text", "text": "p\u0304 / π", "font": "Liberation Sans", "fontWeight": "bold", "fontSize": 28, "align": "left", "baseline": "alphabetic", "color": "black"},
          "encoding": {
            "x": {"datum": 0.5, "type": "quantitative", "scale": {"domain": [0, 4.8], "nice": false, "zero": false}, "axis": null},
            "y": {"datum": 1.43, "type": "quantitative", "scale": {"domain": [0, 1.8], "nice": false, "zero": false}, "axis": null}
          }
        },
        {"data": {"name": "xmaj"}, "mark": {"type": "rule", "color": "black", "strokeWidth": 1.2},
         "encoding": {"x": {"field": "v", "type": "quantitative", "scale": {"domain": [0, 4.8], "nice": false, "zero": false}, "axis": null},
                      "y": {"datum": 0, "type": "quantitative", "scale": {"domain": [0, 1.8], "nice": false, "zero": false}, "axis": null}, "y2": {"datum": 0.0533}}},
        {"data": {"name": "xmaj"}, "mark": {"type": "rule", "color": "black", "strokeWidth": 1.2},
         "encoding": {"x": {"field": "v", "type": "quantitative", "scale": {"domain": [0, 4.8], "nice": false, "zero": false}, "axis": null},
                      "y": {"datum": 1.8, "type": "quantitative", "scale": {"domain": [0, 1.8], "nice": false, "zero": false}, "axis": null}, "y2": {"datum": 1.7467}}},
        {"data": {"name": "xmin"}, "mark": {"type": "rule", "color": "black", "strokeWidth": 1.2},
         "encoding": {"x": {"field": "v", "type": "quantitative", "scale": {"domain": [0, 4.8], "nice": false, "zero": false}, "axis": null},
                      "y": {"datum": 0, "type": "quantitative", "scale": {"domain": [0, 1.8], "nice": false, "zero": false}, "axis": null}, "y2": {"datum": 0.0267}}},
        {"data": {"name": "xmin"}, "mark": {"type": "rule", "color": "black", "strokeWidth": 1.2},
         "encoding": {"x": {"field": "v", "type": "quantitative", "scale": {"domain": [0, 4.8], "nice": false, "zero": false}, "axis": null},
                      "y": {"datum": 1.8, "type": "quantitative", "scale": {"domain": [0, 1.8], "nice": false, "zero": false}, "axis": null}, "y2": {"datum": 1.7733}}},
        {"data": {"name": "ymaj"}, "mark": {"type": "rule", "color": "black", "strokeWidth": 1.2},
         "encoding": {"y": {"field": "v", "type": "quantitative", "scale": {"domain": [0, 1.8], "nice": false, "zero": false}, "axis": null},
                      "x": {"datum": 0, "type": "quantitative", "scale": {"domain": [0, 4.8], "nice": false, "zero": false}, "axis": null}, "x2": {"datum": 0.101}}},
        {"data": {"name": "ymaj"}, "mark": {"type": "rule", "color": "black", "strokeWidth": 1.2},
         "encoding": {"y": {"field": "v", "type": "quantitative", "scale": {"domain": [0, 1.8], "nice": false, "zero": false}, "axis": null},
                      "x": {"datum": 4.8, "type": "quantitative", "scale": {"domain": [0, 4.8], "nice": false, "zero": false}, "axis": null}, "x2": {"datum": 4.699}}},
        {"data": {"name": "ymin"}, "mark": {"type": "rule", "color": "black", "strokeWidth": 1.2},
         "encoding": {"y": {"field": "v", "type": "quantitative", "scale": {"domain": [0, 1.8], "nice": false, "zero": false}, "axis": null},
                      "x": {"datum": 0, "type": "quantitative", "scale": {"domain": [0, 4.8], "nice": false, "zero": false}, "axis": null}, "x2": {"datum": 0.0506}}},
        {"data": {"name": "ymin"}, "mark": {"type": "rule", "color": "black", "strokeWidth": 1.2},
         "encoding": {"y": {"field": "v", "type": "quantitative", "scale": {"domain": [0, 1.8], "nice": false, "zero": false}, "axis": null},
                      "x": {"datum": 4.8, "type": "quantitative", "scale": {"domain": [0, 4.8], "nice": false, "zero": false}, "axis": null}, "x2": {"datum": 4.7494}}}
      ]
    }
  ]
}
